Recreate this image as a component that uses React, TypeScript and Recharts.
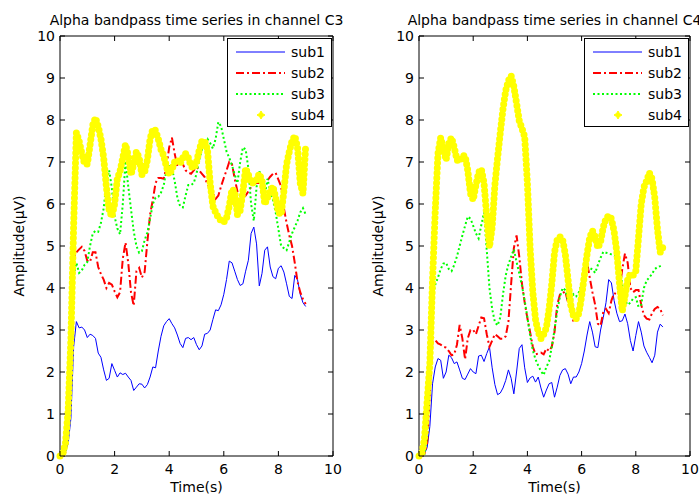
import React from "react"
import { LineChart, Line, XAxis, YAxis, ReferenceArea, Legend } from "recharts"

// time axis (s), one sample every 0.1 s
const time = [
    0, 0.1, 0.2, 0.3, 0.4, 0.5, 0.6, 0.7, 0.8, 0.9,
    1, 1.1, 1.2, 1.3, 1.4, 1.5, 1.6, 1.7, 1.8, 1.9,
    2, 2.1, 2.2, 2.3, 2.4, 2.5, 2.6, 2.7, 2.8, 2.9,
    3, 3.1, 3.2, 3.3, 3.4, 3.5, 3.6, 3.7, 3.8, 3.9,
    4, 4.1, 4.2, 4.3, 4.4, 4.5, 4.6, 4.7, 4.8, 4.9,
    5, 5.1, 5.2, 5.3, 5.4, 5.5, 5.6, 5.7, 5.8, 5.9,
    6, 6.1, 6.2, 6.3, 6.4, 6.5, 6.6, 6.7, 6.8, 6.9,
    7, 7.1, 7.2, 7.3, 7.4, 7.5, 7.6, 7.7, 7.8, 7.9,
    8, 8.1, 8.2, 8.3, 8.4, 8.5, 8.6, 8.7, 8.8, 8.9,
    9,
]

// channel C3
const c3Sub1 = [
    0, 0, 0.1, 0.3, 0.9, 2.6, 3.2, 3.05, 3.07, 3.0,
    2.82, 2.9, 2.87, 2.8, 2.45, 2.35, 2.05, 1.8, 1.85, 2.2,
    2.04, 1.88, 1.98, 1.94, 1.97, 1.88, 1.8, 1.56, 1.64, 1.72,
    1.71, 1.62, 1.7, 1.88, 2.12, 2.1, 2.5, 2.85, 3.1, 3.2,
    3.27, 3.15, 3.05, 2.88, 2.68, 2.58, 2.8, 2.82, 2.77, 2.82,
    2.65, 2.53, 2.62, 2.9, 2.92, 3.0, 3.25, 3.48, 3.46, 3.6,
    3.85, 4.2, 4.64, 4.6, 4.4, 4.2, 4.06, 4.1, 4.4, 4.66,
    5.3, 5.45, 5.05, 4.05, 4.35, 4.9, 4.98, 4.5, 4.27, 4.22,
    4.47, 4.53, 4.38, 4.1, 3.8, 3.75, 4.3, 4.2, 3.85, 3.65,
    3.56,
]
const c3Sub2 = [
    0, 0, 0.1, 0.8, 2.6, 4.7, 4.85, 4.92, 4.98, 4.88,
    4.65, 4.62, 4.85, 4.85, 4.5, 4.33, 4.2, 4.0, 4.12, 4.08,
    3.92, 3.78, 3.9, 4.7, 5.08, 4.6, 3.9, 3.58, 4.4, 4.48,
    4.25, 4.38, 5.1, 5.75, 6.1, 6.5, 6.62, 6.62, 6.6, 6.88,
    7.35, 7.58, 7.2, 6.9, 6.98, 6.95, 6.8, 6.75, 6.72, 6.8,
    6.88, 6.8, 6.72, 6.64, 6.46, 6.4, 6.25, 6.12, 6.2, 6.42,
    6.62, 6.8, 7.0, 6.95, 6.6, 6.3, 6.2, 6.15, 6.2, 6.3,
    6.4, 6.46, 6.5, 6.5, 6.52, 6.55, 6.56, 6.65, 6.72, 6.74,
    6.58, 6.42, 5.9, 5.55, 5.25, 5.0, 4.6, 4.15, 3.9, 3.73,
    3.62,
]
const c3Sub3 = [
    0, 0, 0.1, 0.8, 2.6, 4.3, 4.6, 4.36, 4.42, 4.55,
    4.62, 5.0, 5.3, 5.36, 5.34, 5.55, 5.9, 6.5, 6.8, 6.38,
    5.7, 5.42, 5.28, 6.0, 7.02, 6.42, 5.88, 5.35, 5.0, 4.84,
    4.88, 5.14, 5.32, 5.65, 6.0, 6.15, 6.17, 6.27, 6.45, 6.8,
    6.95, 6.85, 6.55, 6.15, 5.95, 5.92, 6.2, 6.45, 6.45, 6.5,
    6.72, 7.05, 7.3, 7.48, 7.55, 7.45, 7.32, 7.55, 7.95, 7.85,
    7.55, 7.25, 7.1, 6.92, 6.7, 6.5, 7.0, 7.35, 7.3, 6.85,
    6.0, 5.6, 6.4, 6.8, 6.5, 6.2, 6.6, 6.3, 6.1, 5.8,
    5.4, 5.0, 4.95, 4.9, 5.1, 5.3, 5.45, 5.6, 5.8, 5.9,
    5.75,
]
const c3Sub4 = [
    0, 0.05, 0.3, 1.1, 2.8, 5.5, 7.7, 7.5, 7.2, 6.96,
    6.95, 7.4, 7.88, 8.05, 7.85, 7.55, 7.1, 6.4, 5.85, 5.7,
    6.0, 6.6, 6.78, 7.1, 7.42, 7.15, 6.7, 6.95, 7.25, 7.1,
    6.7, 6.76, 7.05, 7.55, 7.78, 7.75, 7.55, 7.3, 7.15, 6.88,
    6.7, 6.82, 7.0, 7.05, 6.96, 7.1, 7.2, 7.1, 6.9, 6.85,
    7.0, 7.28, 7.5, 7.5, 7.3, 6.5, 5.95, 5.8, 5.68, 5.6,
    5.57, 5.67, 5.95, 6.35, 6.3, 5.75, 5.85, 6.3, 6.85, 6.7,
    6.5, 6.5, 6.58, 6.72, 6.55, 6.0, 6.15, 6.3, 6.42, 6.15,
    5.8, 5.75, 6.3, 6.95, 7.25, 7.5, 7.62, 7.35, 6.5, 6.25,
    7.4,
]

// channel C4
const c4Sub1 = [
    0, 0, 0.05, 0.2, 0.7, 1.72, 2.12, 2.32, 2.28, 1.85,
    2.0, 2.4, 2.34, 2.2, 2.24, 2.05, 1.85, 1.82, 1.95, 2.08,
    2.0, 1.96, 2.38, 2.4, 2.25, 2.44, 2.6, 2.1, 1.7, 1.46,
    1.5, 1.62, 1.8, 2.05, 1.85, 1.48, 2.0, 2.56, 2.65, 2.1,
    1.75, 1.86, 1.9, 1.76, 1.88, 1.62, 1.4, 1.57, 1.72, 1.75,
    1.4, 1.64, 1.92, 2.05, 2.08, 1.95, 1.72, 1.88, 1.88, 2.0,
    2.2, 2.5, 2.88, 3.2, 2.95, 2.6, 2.58, 3.0, 3.3, 3.65,
    4.2, 4.12, 3.7, 3.4, 3.2, 3.22, 3.38, 3.15, 2.75, 2.5,
    2.87, 3.2, 2.95, 2.62, 2.47, 2.35, 2.22, 2.4, 2.95, 3.14,
    3.07,
]
const c4Sub2 = [
    0, 0, 0.05, 0.3, 1.5, 2.83, 2.76, 2.68, 2.65, 2.6,
    2.58, 2.5, 2.4, 2.42, 2.65, 3.12, 2.8, 2.3, 2.8, 3.0,
    3.0, 2.9, 3.1, 3.3, 3.28, 2.9, 2.6, 2.75, 2.9, 2.85,
    2.79, 2.79, 2.85, 3.2, 4.1, 4.95, 5.25, 4.75, 4.1, 3.65,
    3.28, 2.95, 2.6, 2.42, 2.44, 2.46, 2.42, 2.56, 2.5, 2.6,
    2.95, 3.6, 3.84, 3.88, 3.92, 3.65, 3.45, 3.2, 3.2, 3.55,
    4.0, 4.5, 4.62, 4.25, 3.9, 3.6, 3.15, 3.1, 3.43, 3.5,
    3.4, 3.7, 3.88, 3.85, 3.95, 4.45, 4.82, 4.6, 4.0, 3.9,
    3.95, 3.95, 3.6, 3.35, 3.27, 3.25, 3.4, 3.5, 3.55, 3.5,
    3.35,
]
const c4Sub3 = [
    0, 0, 0.05, 0.5, 2.0, 3.8, 4.08, 4.25, 4.45, 4.58,
    4.6, 4.45, 4.4, 4.55, 4.75, 5.0, 5.25, 5.48, 5.7, 5.65,
    5.48, 5.3, 5.18, 5.5, 5.8, 4.9, 4.0, 3.5, 3.19, 3.11,
    3.3, 3.85, 4.3, 4.56, 4.75, 4.92, 4.62, 4.35, 4.05, 3.7,
    3.3, 2.87, 2.52, 2.3, 2.15, 2.02, 1.93, 2.12, 2.25, 2.6,
    3.0, 3.45, 3.79, 4.0, 3.95, 3.7, 3.6, 3.85, 3.8, 3.9,
    4.1, 4.4, 4.5, 4.48, 4.44, 4.36, 4.55, 4.72, 4.86, 4.84,
    4.82, 4.8, 4.77, 4.74, 4.55, 4.08, 3.7, 3.6, 3.65, 3.75,
    3.78, 3.55, 3.6, 4.0, 4.18, 4.25, 4.34, 4.45, 4.5, 4.52,
    4.55,
]
const c4Sub4 = [
    0, 0.05, 0.4, 1.3, 2.2, 4.2, 5.85, 7.2, 7.58, 7.3,
    7.05, 7.45, 7.58, 7.35, 7.05, 7.02, 7.15, 7.15, 6.8, 6.25,
    6.1, 6.45, 6.75, 6.83, 6.5, 5.69, 4.98, 5.45, 6.45, 7.1,
    7.7, 8.27, 8.7, 8.94, 9.05, 8.8, 8.4, 7.98, 7.8, 7.6,
    6.5, 4.95, 3.9, 3.25, 2.95, 2.8, 2.9, 3.05, 3.5, 4.1,
    4.85, 5.15, 5.22, 5.15, 4.8, 4.2, 3.6, 3.33, 3.27, 3.4,
    3.8, 4.3, 4.8, 5.2, 5.36, 5.22, 4.96, 5.1, 5.45, 5.65,
    5.72, 5.65, 5.35, 4.85, 4.1, 3.45, 3.8, 4.2, 4.33, 4.3,
    4.4, 5.2, 6.0, 6.4, 6.55, 6.74, 6.6, 6.15, 5.4, 4.85,
    4.97,
]

const xTicks = [0, 2, 4, 6, 8, 10]
const yTicks = [0, 1, 2, 3, 4, 5, 6, 7, 8, 9, 10]
const seriesNames = ["sub1", "sub2", "sub3", "sub4"]

const FONT = '"DejaVu Sans", sans-serif'
const H = 498
const PLOT_TOP = 36
const PLOT_BOTTOM = 456
const TICK_LEN = 5
// axes need a non-zero size or recharts skips drawing them
const AXIS_SIZE = 1

const buildRows = (s1: number[], s2: number[], s3: number[], s4: number[]) =>
    time.map((t, i) => ({ t, sub1: s1[i], sub2: s2[i], sub3: s3[i], sub4: s4[i] }))

const c3Rows = buildRows(c3Sub1, c3Sub2, c3Sub3, c3Sub4)
const c4Rows = buildRows(c4Sub1, c4Sub2, c4Sub3, c4Sub4)

// MATLAB style ticks: pointing inwards, repeated on the opposite side of the box
const makeXTick = (plotH: number) => (props: any) => {
    const { x, y, payload } = props
    return (
        <g>
            <line x1={x} x2={x} y1={y} y2={y - TICK_LEN} stroke="#000" />
            <line x1={x} x2={x} y1={y - plotH} y2={y - plotH + TICK_LEN} stroke="#000" />
            <text x={x} y={y + 18} textAnchor="middle" fontSize={14} fontFamily={FONT} fill="#000">
                {payload.value}
            </text>
        </g>
    )
}

const makeYTick = (plotW: number) => (props: any) => {
    const { x, y, payload } = props
    return (
        <g>
            <line x1={x} x2={x + TICK_LEN} y1={y} y2={y} stroke="#000" />
            <line x1={x + plotW} x2={x + plotW - TICK_LEN} y1={y} y2={y} stroke="#000" />
            <text x={x - 5} y={y} dy="0.36em" textAnchor="end" fontSize={14} fontFamily={FONT} fill="#000">
                {payload.value}
            </text>
        </g>
    )
}

const legendStyles = [
    { color: "#0000ff", width: 1, dash: undefined },
    { color: "#ff0000", width: 2, dash: "8 3 2 3" },
    { color: "#00ff00", width: 2, dash: "2 2.5" },
]

function LegendBox() {
    return (
        <div style={{ width: 105, height: 89, border: "1px solid #000", background: "#fff", boxSizing: "border-box" }}>
            <svg width={103} height={87}>
                {seriesNames.map((name, i) => {
                    const cy = 13 + i * 21
                    return (
                        <g key={name}>
                            {i < 3 ? (
                                <line x1={8} x2={57} y1={cy} y2={cy}
                                    stroke={legendStyles[i].color}
                                    strokeWidth={legendStyles[i].width}
                                    strokeDasharray={legendStyles[i].dash} />
                            ) : (
                                <polygon
                                    points={`33,${cy - 4} 34.5,${cy - 1.5} 37,${cy} 34.5,${cy + 1.5} 33,${cy + 4} 31.5,${cy + 1.5} 29,${cy} 31.5,${cy - 1.5}`}
                                    fill="#ffff00" stroke="#ffff00" />
                            )}
                            <text x={63} y={cy + 5} fontSize={14} fontFamily={FONT} fill="#000">{name}</text>
                        </g>
                    )
                })}
            </svg>
        </div>
    )
}

interface PanelProps {
    title: string
    rows: any[]
    left: number
    width: number
    plotLeft: number
    plotRight: number
}

function Panel({ title, rows, left, width, plotLeft, plotRight }: PanelProps) {
    const plotW = plotRight - plotLeft
    const plotH = PLOT_BOTTOM - PLOT_TOP
    const cx = plotLeft + plotW / 2

    return (
        <div style={{ position: "absolute", left, top: 0, width, height: H }}>
            <div style={{
                position: "absolute", left: cx - 200, top: 12, width: 400, textAlign: "center",
                fontSize: 14, lineHeight: "16px", whiteSpace: "nowrap", color: "#000", fontFamily: FONT,
            }}>
                {title}
            </div>
            <LineChart
                width={width}
                height={H}
                data={rows}
                margin={{
                    top: PLOT_TOP,
                    bottom: H - PLOT_BOTTOM - AXIS_SIZE,
                    left: plotLeft - AXIS_SIZE,
                    right: width - plotRight,
                }}
            >
                <XAxis
                    dataKey="t"
                    type="number"
                    domain={[0, 10]}
                    ticks={xTicks}
                    interval={0}
                    height={AXIS_SIZE}
                    tickSize={0}
                    tickMargin={0}
                    axisLine={false}
                    tickLine={false}
                    tick={makeXTick(plotH)}
                    label={{
                        content: (p: any) => (
                            <text x={p.viewBox.x + p.viewBox.width / 2} y={p.viewBox.y + 36}
                                textAnchor="middle" fontSize={14} fontFamily={FONT} fill="#000">Time(s)</text>
                        ),
                    }}
                />
                <YAxis
                    type="number"
                    domain={[0, 10]}
                    ticks={yTicks}
                    interval={0}
                    width={AXIS_SIZE}
                    tickSize={0}
                    tickMargin={0}
                    axisLine={false}
                    tickLine={false}
                    tick={makeYTick(plotW)}
                    label={{
                        content: (p: any) => {
                            const lx = p.viewBox.x + p.viewBox.width - 41
                            const ly = p.viewBox.y + p.viewBox.height / 2
                            return (
                                <text x={lx} y={ly} transform={`rotate(-90 ${lx} ${ly})`} textAnchor="middle"
                                    dominantBaseline="central" fontSize={14} fontFamily={FONT} fill="#000">
                                    Amplitude(μV)
                                </text>
                            )
                        },
                    }}
                />
                <ReferenceArea x1={0} x2={10} y1={0} y2={10} fill="none" fillOpacity={0} stroke="#000" strokeWidth={1} />
                <Line type="linear" dataKey="sub1" stroke="#0000ff" strokeWidth={1}
                    dot={false} activeDot={false} isAnimationActive={false} />
                <Line type="linear" dataKey="sub2" stroke="#ff0000" strokeWidth={2} strokeDasharray="8 3 2 3"
                    dot={false} activeDot={false} isAnimationActive={false} />
                <Line type="linear" dataKey="sub3" stroke="#00ff00" strokeWidth={2} strokeDasharray="2 2.5"
                    dot={false} activeDot={false} isAnimationActive={false} />
                <Line type="linear" dataKey="sub4" stroke="#ffff00" strokeWidth={7} strokeLinecap="round"
                    strokeLinejoin="round" strokeDasharray="0 5"
                    dot={false} activeDot={false} isAnimationActive={false} />
                <Legend
                    layout="horizontal"
                    verticalAlign="middle"
                    align="center"
                    content={() => <LegendBox />}
                    wrapperStyle={{ top: 38, left: plotRight - 106, width: 105, height: 89 }}
                />
            </LineChart>
        </div>
    )
}

export default function App() {
    return (
        <div style={{
            position: "absolute", left: 0, top: 0, width: 699, height: H,
            overflow: "hidden", background: "#fff", fontFamily: FONT,
        }}>
            <Panel title="Alpha bandpass time series in channel C3" rows={c3Rows}
                left={0} width={350} plotLeft={60} plotRight={333} />
            <Panel title="Alpha bandpass time series in channel C4" rows={c4Rows}
                left={350} width={349} plotLeft={69} plotRight={340} />
        </div>
    )
}
